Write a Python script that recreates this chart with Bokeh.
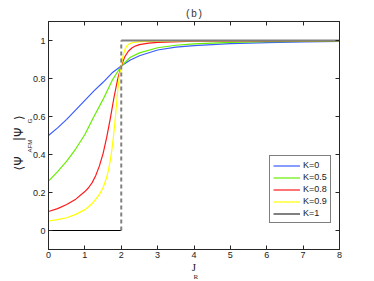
import math
from bokeh.plotting import figure
from bokeh.models import Range1d, LinearAxis, FixedTicker, Title, Legend, LegendItem
from bokeh.embed import file_html
from bokeh.resources import INLINE

# ---- data ----
x_ticks = [0, 1, 2, 3, 4, 5, 6, 7, 8]
y_ticks = [0, 0.2, 0.4, 0.6, 0.8, 1]
y_tick_labels = ["0", "0.2", "0.4", "0.6", "0.8", "1"]

k0_x = [0, 0.25, 0.5, 0.75, 1.0, 1.25, 1.5, 1.75, 2.0, 2.25, 2.5, 3, 3.5, 4, 5, 6, 7, 8]
k0_y = [0.50, 0.54, 0.585, 0.635, 0.685, 0.735, 0.78, 0.83, 0.866, 0.897, 0.92, 0.95,
        0.965, 0.973, 0.984, 0.989, 0.992, 0.995]

k05_x = [0, 0.25, 0.5, 0.75, 1.0, 1.25, 1.5, 1.75, 2.0, 2.25, 2.5, 3, 3.5, 4, 5, 6, 8]
k05_y = [0.26, 0.31, 0.365, 0.43, 0.505, 0.60, 0.69, 0.79, 0.866, 0.912, 0.935, 0.962,
         0.975, 0.982, 0.99, 0.994, 0.997]

k08_x = [0, 0.25, 0.5, 0.75, 1.0, 1.1, 1.2, 1.3, 1.4, 1.5, 1.6, 1.7, 1.8, 1.9, 2.0,
         2.1, 2.2, 2.3, 2.4, 2.5, 2.75, 3, 4, 6, 8]
k08_y = [0.10, 0.115, 0.137, 0.165, 0.205, 0.225, 0.252, 0.29, 0.34, 0.405, 0.49, 0.59,
         0.70, 0.795, 0.866, 0.915, 0.945, 0.962, 0.972, 0.978, 0.986, 0.99, 0.996,
         0.998, 0.999]

k09_x = [0, 0.25, 0.5, 0.75, 1.0, 1.1, 1.2, 1.3, 1.4, 1.5, 1.6, 1.65, 1.7, 1.75, 1.8,
         1.85, 1.9, 1.95, 2.0, 2.05, 2.1, 2.15, 2.2, 2.3, 2.5, 3, 4, 8]
k09_y = [0.05, 0.057, 0.067, 0.085, 0.11, 0.125, 0.142, 0.165, 0.19, 0.225, 0.28, 0.32,
         0.37, 0.435, 0.52, 0.62, 0.73, 0.815, 0.866, 0.92, 0.952, 0.97, 0.98, 0.988,
         0.994, 0.997, 0.999, 1.0]

k1_low_x = [0, 2]
k1_low_y = [0, 0]
k1_jump_x = [2, 2]
k1_jump_y = [0, 1]
k1_high_x = [2, 8]
k1_high_y = [1, 1]

series_labels = ["K=0", "K=0.5", "K=0.8", "K=0.9", "K=1"]
series_colors = ["#3a5cff", "#66ee00", "#ff1a1a", "#ffff00", "#808080"]

NB = "\u00a0"
title_text = "(b)"
x_label_main = "J"
x_label_sub = "R"
y_label_main = "\u27e8\u03a8" + NB * 4 + "|\u03a8" + NB * 2 + "\u27e9"
y_label_sub = "AFM" + NB * 10 + "G"

AX = "#262626"
TXT = "#222222"
FONT = "Liberation Sans"
SANS2 = "DejaVu Sans"

p = figure(width=374, height=281, output_backend="svg", toolbar_location=None,
           x_range=Range1d(0, 8), y_range=Range1d(-0.1, 1.1),
           min_border_left=48, min_border_right=35, min_border_top=21,
           min_border_bottom=32)
p.grid.visible = False
p.outline_line_color = AX
p.background_fill_color = "white"
p.border_fill_color = "white"

p.title.text = title_text
p.title.align = "center"
p.title.text_font = "Liberation Mono"
p.title.text_font_size = "10px"
p.title.text_font_style = "normal"
p.title.text_color = "#333333"
p.title.standoff = 4

bottom_axis = p.below[0]
left_axis = p.left[0]
top_axis = LinearAxis()
right_axis = LinearAxis()
p.add_layout(top_axis, "above")
p.add_layout(right_axis, "right")

for ax in [bottom_axis, top_axis]:
    ax.ticker = FixedTicker(ticks=x_ticks)
for ax in [left_axis, right_axis]:
    ax.ticker = FixedTicker(ticks=y_ticks)

for ax in [bottom_axis, left_axis, top_axis, right_axis]:
    ax.axis_line_color = AX
    ax.major_tick_line_color = AX
    ax.major_tick_in = 4
    ax.major_tick_out = 0
    ax.minor_tick_line_color = None
    ax.major_label_text_font = FONT
    ax.major_label_text_font_size = "9px"
    ax.major_label_text_color = TXT
    ax.major_label_standoff = 4

bottom_axis.major_label_standoff = 2
left_axis.major_label_standoff = 3
top_axis.major_label_overrides = {t: "" for t in x_ticks}
right_axis.major_label_overrides = {t: "" for t in y_ticks}
for ax in [top_axis, right_axis]:
    ax.major_label_standoff = 0

left_axis.major_label_overrides = {t: s for t, s in zip(y_ticks, y_tick_labels)}

# x label: J with subscript R
bottom_axis.axis_label = x_label_main
bottom_axis.axis_label_text_font = "Liberation Serif"
bottom_axis.axis_label_text_font_size = "11px"
bottom_axis.axis_label_text_font_style = "normal"
bottom_axis.axis_label_text_color = TXT
bottom_axis.axis_label_standoff = 0
p.add_layout(Title(text=x_label_sub, align="left", offset=145, standoff=-10,
                   text_font="Liberation Serif", text_font_size="7px",
                   text_font_style="normal", text_color=TXT), "below")

# y label: <Psi_AFM|Psi_G>
left_axis.axis_label = y_label_sub
left_axis.axis_label_text_font = FONT
left_axis.axis_label_text_font_size = "6px"
left_axis.axis_label_text_font_style = "normal"
left_axis.axis_label_text_color = TXT
left_axis.axis_label_standoff = -3
p.add_layout(Title(text=y_label_main, align="left", offset=79, standoff=-4,
                   text_font=SANS2, text_font_size="12px",
                   text_font_style="normal", text_color=TXT), "left")

r0 = p.line(k0_x, k0_y, line_color=series_colors[0], line_width=1.2)
r1 = p.line(k05_x, k05_y, line_color=series_colors[1], line_width=1.2)
r2 = p.line(k08_x, k08_y, line_color=series_colors[2], line_width=1.2)
r3 = p.line(k09_x, k09_y, line_color=series_colors[3], line_width=1.2)
p.line(k1_low_x, k1_low_y, line_color="black", line_width=1.2)
p.line(k1_jump_x, k1_jump_y, line_color=series_colors[4], line_width=2, line_dash="4 3")
r4 = p.line(k1_high_x, k1_high_y, line_color=series_colors[4], line_width=2)

legend = Legend(items=[LegendItem(label=l, renderers=[r]) for l, r in
                       zip(series_labels, [r0, r1, r2, r3, r4])],
                location=(221, 26))
legend.label_text_font = FONT
legend.label_text_font_size = "9px"
legend.label_text_color = TXT
legend.glyph_width = 27
legend.glyph_height = 11
legend.label_height = 12
legend.label_standoff = 3
legend.spacing = 0
legend.padding = 3
legend.margin = 0
legend.border_line_color = "black"
legend.border_line_width = 1
legend.background_fill_color = "white"
legend.background_fill_alpha = 1
p.add_layout(legend)

open("out.html", "w").write(file_html(p, INLINE))
